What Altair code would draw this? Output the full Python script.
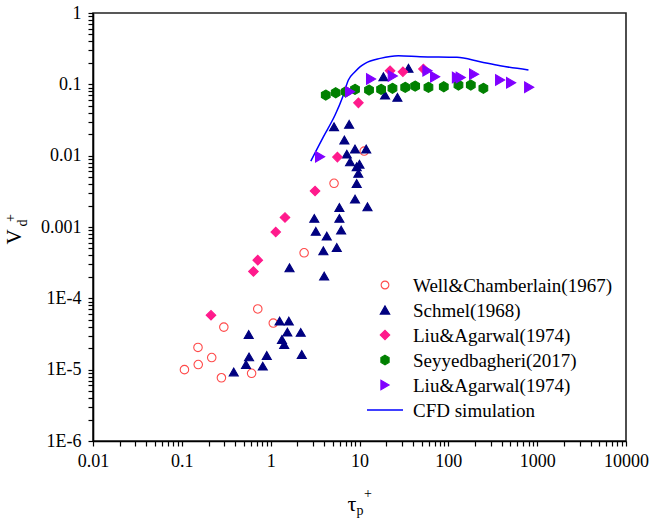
import altair as alt
import pandas as pd

# ---------------- data ----------------
wc_x = [0.107, 0.153, 0.152, 0.217, 0.297, 0.279, 0.716, 0.61, 1.07, 2.38, 5.17, 11.3]
wc_y = [1.0e-5, 1.18e-5, 2.05e-5, 1.48e-5, 3.95e-5, 7.7e-6, 7.1e-5, 8.9e-6, 4.5e-5, 4.35e-4, 4.1e-3, 0.0116]

sc_x = [0.384, 0.528, 0.571, 0.566, 0.815, 0.904, 1.26, 1.60, 1.54, 1.34, 1.42, 2.18, 2.24,
        1.63, 3.22, 4.28, 3.92, 5.55, 4.0, 6.21, 3.1, 5.94, 5.94, 5.17, 7.64, 6.76, 7.2,
        8.9, 7.83, 9.3, 9.3, 8.9, 11.9, 10.0, 9.7, 12.3, 18.6, 35.6, 19.4, 26.7]
sc_y = [9.3e-6, 1.18e-5, 1.51e-5, 3.12e-5, 1.12e-5, 1.58e-5, 4.8e-5, 4.8e-5, 3.36e-5, 2.65e-5, 2.25e-5, 3.33e-5, 1.63e-5,
        2.68e-4, 8.7e-4, 7.45e-4, 4.64e-4, 5.17e-4, 2.05e-4, 9.05e-4, 1.32e-3, 1.88e-3, 1.32e-3, 0.0255, 0.0275, 0.0166, 0.0105,
        0.0124, 8.2e-3, 6.99e-3, 4.08e-3, 2.46e-3, 0.0124, 7.6e-3, 5.65e-3, 1.92e-3, 0.128, 0.168, 0.0708, 0.0657]

la_x = [0.213, 0.64, 0.716, 1.14, 1.45, 3.16, 5.64, 9.72, 22.1, 30.8, 52.5]
la_y = [5.8e-5, 2.38e-4, 3.43e-4, 8.5e-4, 1.36e-3, 3.2e-3, 9.55e-3, 0.055, 0.155, 0.150, 0.164]

sy_x = [4.17, 5.4, 7.0, 8.9, 12.8, 17.5, 23.5, 32.7, 42.3, 59.7, 88.9, 130, 179, 248]
sy_y = [0.0708, 0.0762, 0.0787, 0.085, 0.0832, 0.085, 0.088, 0.0908, 0.0946, 0.0908, 0.0925, 0.0978, 0.0978, 0.088]

lr_x = [3.6, 7.83, 13.5, 23.7, 58.2, 71, 125, 138, 195, 383, 509, 813]
lr_y = [9.65e-3, 0.0787, 0.119, 0.131, 0.155, 0.128, 0.125, 0.125, 0.139, 0.115, 0.105, 0.0908]

cfd_x = [2.83, 3.92, 5.31, 6.48, 7.5, 8.9, 10.2, 11.6, 17.1, 27.4, 48.1, 125, 228, 383, 798]
cfd_y = [8.4e-3, 0.0184, 0.0371, 0.067, 0.115, 0.15, 0.177, 0.197, 0.231, 0.252, 0.244, 0.239, 0.207, 0.182, 0.159]

series_names = ["Well&Chamberlain(1967)", "Schmel(1968)", "Liu&Agarwal(1974)",
                "Seyyedbagheri(2017)", "Liu&Agarwal(1974) ", "CFD simulation"]
fill_colors = ["transparent", "#000080", "#FF1A8C", "#008000", "#8000FF", "#0000FF"]
stroke_colors = ["#FF4A4A", "#000080", "#FF1A8C", "#008000", "#8000FF", "#0000FF"]
hexagon = "M0,-1L0.866,-0.5L0.866,0.5L0,1L-0.866,0.5L-0.866,-0.5Z"
shapes = ["circle", "triangle-up", "diamond", hexagon, "triangle-right", "stroke"]
sizes = [72, 120, 115, 120, 130, 100]
legend_sizes = [60, 90, 90, 90, 90, 100]

# axis ticks: decades are labelled, the values in between get unlabelled ticks
x_ticks = [k * 10.0 ** e for e in range(-2, 4) for k in range(1, 10)] + [10000.0]
y_ticks = [k * 10.0 ** e for e in range(-6, 0) for k in range(1, 10)] + [1.0]

FONT = "Liberation Serif"
IS_MAJOR = "abs(log(datum.value)/LN10 - round(log(datum.value)/LN10)) < 0.001"

rows = []
for name, xs, ys in [(series_names[0], wc_x, wc_y), (series_names[1], sc_x, sc_y),
                     (series_names[2], la_x, la_y), (series_names[3], sy_x, sy_y),
                     (series_names[4], lr_x, lr_y)]:
    for a, b in zip(xs, ys):
        rows.append({"series": name, "tau": a, "vd": b})
pts = pd.DataFrame(rows)
cfd = pd.DataFrame({"tau": cfd_x, "vd": cfd_y})

xscale = alt.Scale(type="log", domain=[0.01, 10000], nice=False)
yscale = alt.Scale(type="log", domain=[1e-6, 1], nice=False)

xaxis = alt.Axis(orient="bottom", values=x_ticks, title=None, grid=False,
                 tickSize=5, labelPadding=6, labelFont=FONT, labelFontSize=18, labelColor="black",
                 labelExpr=IS_MAJOR + " ? toString(datum.value) : ''",
                 domainColor="black", domainWidth=1.6, tickColor="black",
                 tickWidth=1.2, labelFlush=False, labelOverlap=False)
yaxis = alt.Axis(orient="left", values=y_ticks, title=None, grid=False,
                 tickSize=5, labelPadding=7, labelFont=FONT, labelFontSize=18, labelColor="black",
                 labelExpr=IS_MAJOR + " ? (datum.value < 0.0005 ? '1E' + round(log(datum.value)/LN10) : toString(datum.value)) : ''",
                 domainColor="black", domainWidth=1.6, tickColor="black",
                 tickWidth=1.2, labelFlush=False, labelOverlap=False)

line = alt.Chart(cfd).mark_line(color="#0000FF", strokeWidth=1.5, interpolate="monotone").encode(
    x=alt.X("tau:Q", scale=xscale, axis=xaxis),
    y=alt.Y("vd:Q", scale=yscale, axis=yaxis),
)

points = alt.Chart(pts).mark_point(opacity=1, strokeWidth=1.1).encode(
    x=alt.X("tau:Q", scale=xscale),
    y=alt.Y("vd:Q", scale=yscale),
    fill=alt.Fill("series:N", scale=alt.Scale(domain=series_names, range=fill_colors), legend=None),
    stroke=alt.Stroke("series:N", scale=alt.Scale(domain=series_names, range=stroke_colors), legend=None),
    shape=alt.Shape("series:N", scale=alt.Scale(domain=series_names, range=shapes), legend=None),
    size=alt.Size("series:N", scale=alt.Scale(domain=series_names, range=sizes), legend=None),
)

one = pd.DataFrame({"a": [0]})
def txt(s, x, y, size, angle=0, align="center"):
    kw = dict(text=s, font=FONT, fontSize=size, color="black", align=align, baseline="middle")
    if angle:
        kw["angle"] = angle
    return alt.Chart(one).mark_text(**kw).encode(x=alt.value(x), y=alt.value(y))

# hand-built legend (inside the plot, lower right)
LX, LY0, DY = 292, 272, 25
legend_layers = []
for i, name in enumerate(series_names):
    yy = LY0 + i * DY
    if shapes[i] == "stroke":
        legend_layers.append(alt.Chart(one).mark_rule(color=stroke_colors[i], strokeWidth=1.5).encode(
            x=alt.value(LX - 18), x2=alt.value(LX + 18), y=alt.value(yy)))
    else:
        legend_layers.append(alt.Chart(one).mark_point(
            shape=shapes[i], fill=fill_colors[i], stroke=stroke_colors[i], opacity=1,
            strokeWidth=1.1, size=legend_sizes[i]).encode(x=alt.value(LX), y=alt.value(yy)))
    legend_layers.append(txt(name, LX + 28, yy + 1, 19, align="left"))

titles = [
    txt("τ", 259, 491, 22),
    txt("p", 267, 498, 14),
    txt("+", 275, 481, 14),
    txt("V", -78, 224, 21, angle=270),
    txt("d", -70, 210, 14, angle=270),
    txt("+", -82, 205, 14, angle=270),
]

chart = alt.layer(line, points, *legend_layers, *titles).properties(
    width=533, height=428, autosize="none",
    padding={"left": 93, "top": 13, "right": 25, "bottom": 82},
    background="white",
).configure_view(stroke="#222222", strokeWidth=1.6)

chart.save("out.html", embed_options={"renderer": "svg", "actions": False})
